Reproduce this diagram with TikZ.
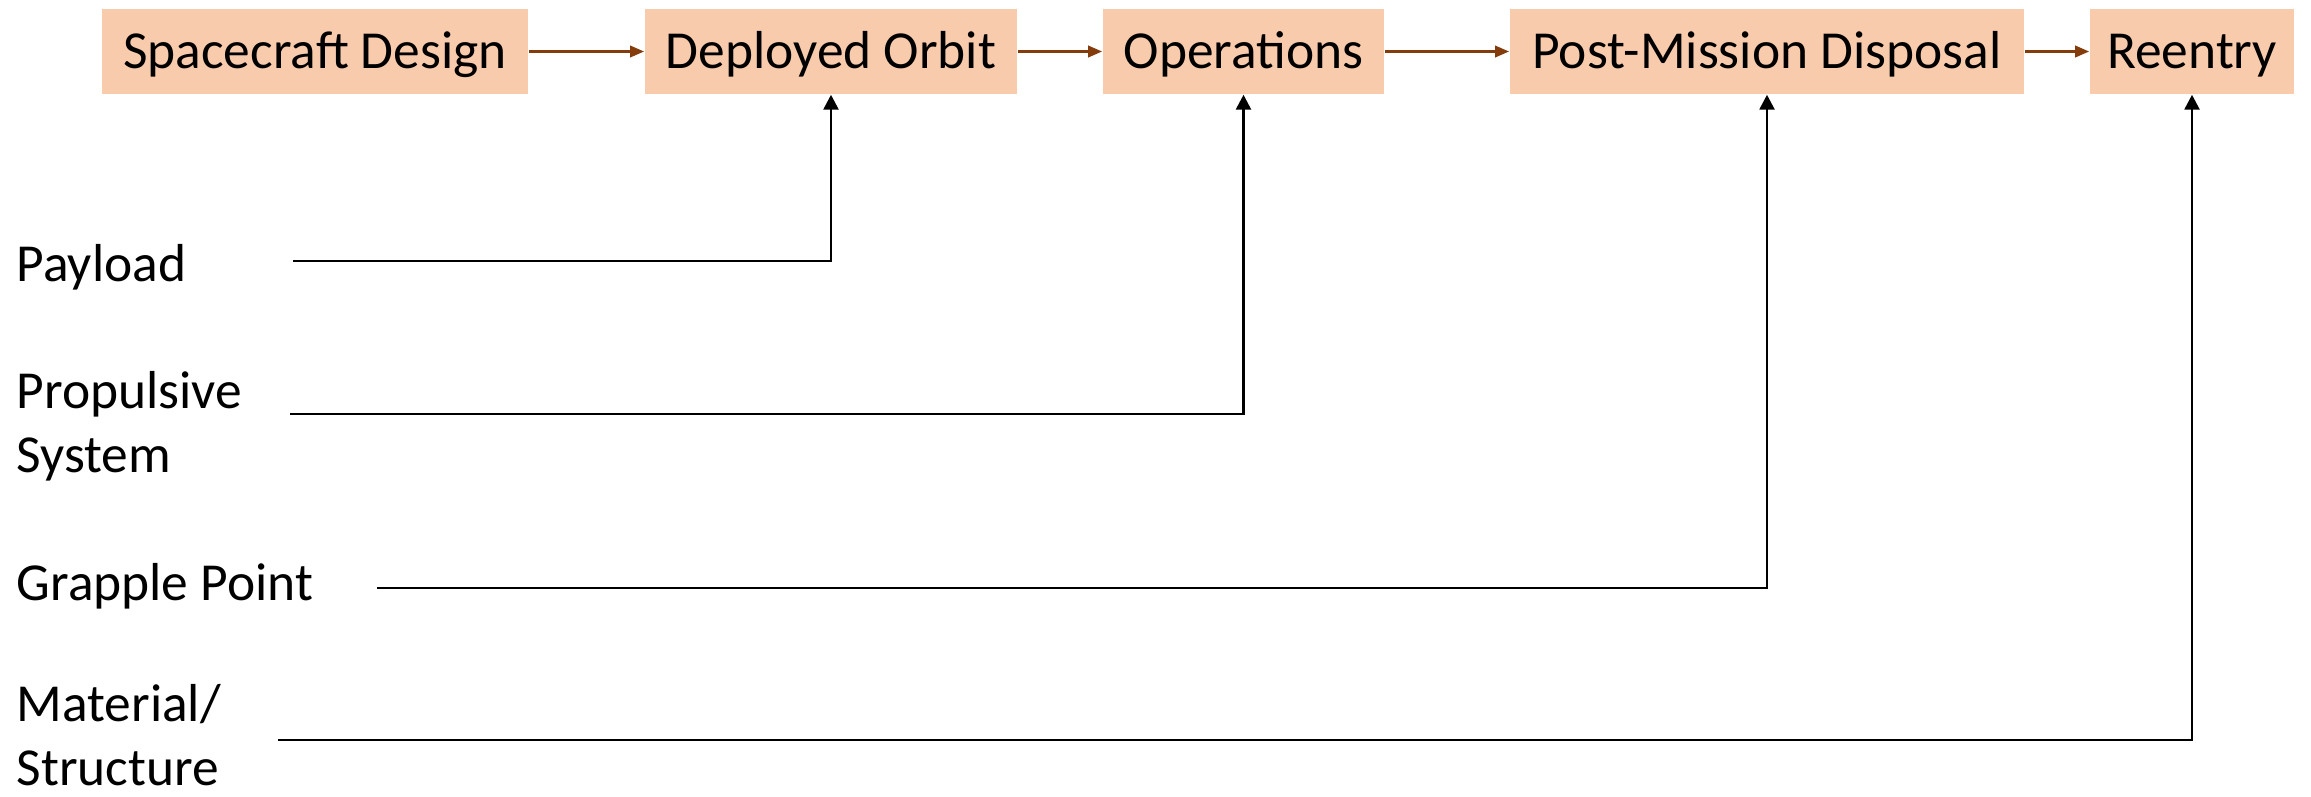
\documentclass[tikz,border=0pt]{standalone}
\usepackage{fontspec}
\setmainfont{Carlito}
\usetikzlibrary{arrows.meta}
\definecolor{boxfill}{HTML}{F8CBAD}
\definecolor{brownline}{HTML}{843C0C}
\tikzset{
  stagebox/.style={fill=boxfill, draw=none, inner sep=0pt, minimum height=0.85cm,
    text height=0.43cm, text depth=0.10cm,
    font=\fontsize{15.2}{18.2}\selectfont, text=black},
  sidelabel/.style={inner sep=0pt, align=left, font=\fontsize{15.2}{18.2}\selectfont, text=black},
  flow/.style={draw=brownline, line width=0.8pt, -{Triangle[length=4pt,width=3.2pt]}},
  conn/.style={draw=black, line width=0.75pt, -{Triangle[length=4.2pt,width=4.2pt]}}
}
\begin{document}
\begin{tikzpicture}[x=0.01cm,y=-0.01cm]
\useasboundingbox (0,0) rectangle (2311,796);
% stage boxes
\node[stagebox, minimum width=4.26cm] (sd)  at (315,51.5)    {Spacecraft Design};
\node[stagebox, minimum width=3.72cm] (do)  at (831,51.5)    {Deployed Orbit};
\node[stagebox, minimum width=2.81cm] (op)  at (1243.5,51.5) {Operations};
\node[stagebox, minimum width=5.14cm] (pmd) at (1767,51.5)   {Post-Mission Disposal};
\node[stagebox, minimum width=2.04cm] (re)  at (2192,51.5)   {Reentry};
% flow arrows
\draw[flow] (sd.east) -- (do.west);
\draw[flow] (do.east) -- (op.west);
\draw[flow] (op.east) -- (pmd.west);
\draw[flow] (pmd.east) -- (re.west);
% side labels (base = baseline of last line)
\node[sidelabel, anchor=base west] (pl) at (16,281) {Payload};
\node[sidelabel, anchor=base west] (ps) at (16,472) {Propulsive\\System};
\node[sidelabel, anchor=base west] (gp) at (16,600) {Grapple Point};
\node[sidelabel, anchor=base west] (ms) at (16,785) {Material/\\Structure};
% line start points
\coordinate (plS) at (293,261);
\coordinate (psS) at (290,414);
\coordinate (gpS) at (377,588);
\coordinate (msS) at (278,740);
% connectors
\draw[conn] (plS) -| (do.south);
\draw[conn] (psS) -| (op.south);
\draw[conn] (gpS) -| (pmd.south);
\draw[conn] (msS) -| (re.south);
\end{tikzpicture}
\end{document}
